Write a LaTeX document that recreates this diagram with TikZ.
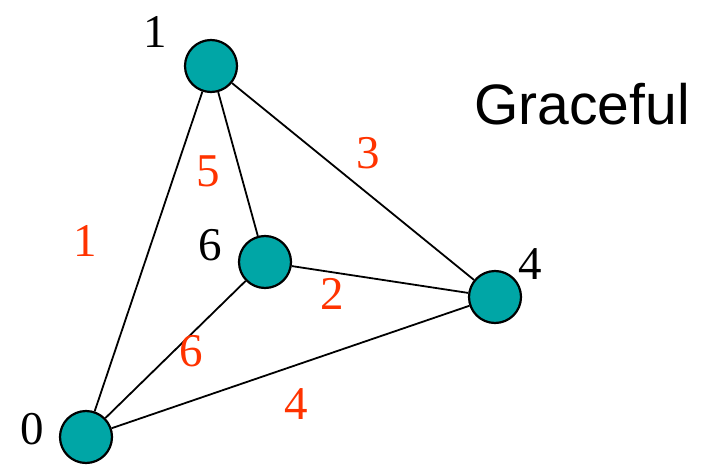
\documentclass[tikz,border=0pt]{standalone}
\usepackage{fontspec}
\setmainfont{Liberation Serif}
\newfontfamily\titlefont{Liberation Sans}
\usepackage{tikz}
\definecolor{myteal}{RGB}{0,166,166}
\definecolor{myred}{RGB}{255,51,0}
\usetikzlibrary{arrows}

\begin{document}
\begin{tikzpicture}[vertex/.style={draw, circle, fill=myteal, line width=2.2pt, minimum size=52pt, inner sep=0pt},
					vlabel/.style={font=\fontsize{47}{49}\selectfont},
					elabel/.style={font=\fontsize{47}{49}\selectfont, text=myred},
					x=1pt, y=-1pt, line width=1.8pt]
					\useasboundingbox (0,0) rectangle (703,465);
					% Knoten
					\node[vertex] (v1) at (211,66) {};
					\node[vertex] (v6) at (265,262) {};
					\node[vertex] (v4) at (495,297) {};
					\node[vertex] (v0) at (86,437) {};
					% Kanten
					\draw (v0) -- (v1);
					\draw (v1) -- (v6);
					\draw (v1) -- (v4);
					\draw (v6) -- (v4);
					\draw (v6) -- (v0);
					\draw (v0) -- (v4);
					% Knotenbeschriftungen
					\node[vlabel] (l1) at (155,32) {1};
					\node[vlabel] (l6) at (210,245) {6};
					\node[vlabel] (l4) at (530,264) {4};
					\node[vlabel] (l0) at (32,429) {0};
					% Kantenbeschriftungen
					\node[elabel] (e1) at (85,241) {1};
					\node[elabel] (e5) at (208,171) {5};
					\node[elabel] (e3) at (368,153) {3};
					\node[elabel] (e2) at (332,294) {2};
					\node[elabel] (e6) at (191,351) {6};
					\node[elabel] (e4) at (296,404) {4};
					\node[font=\titlefont\fontsize{57}{59}\selectfont] (title) at (582,104) {Graceful};
				\end{tikzpicture}
\end{document}
